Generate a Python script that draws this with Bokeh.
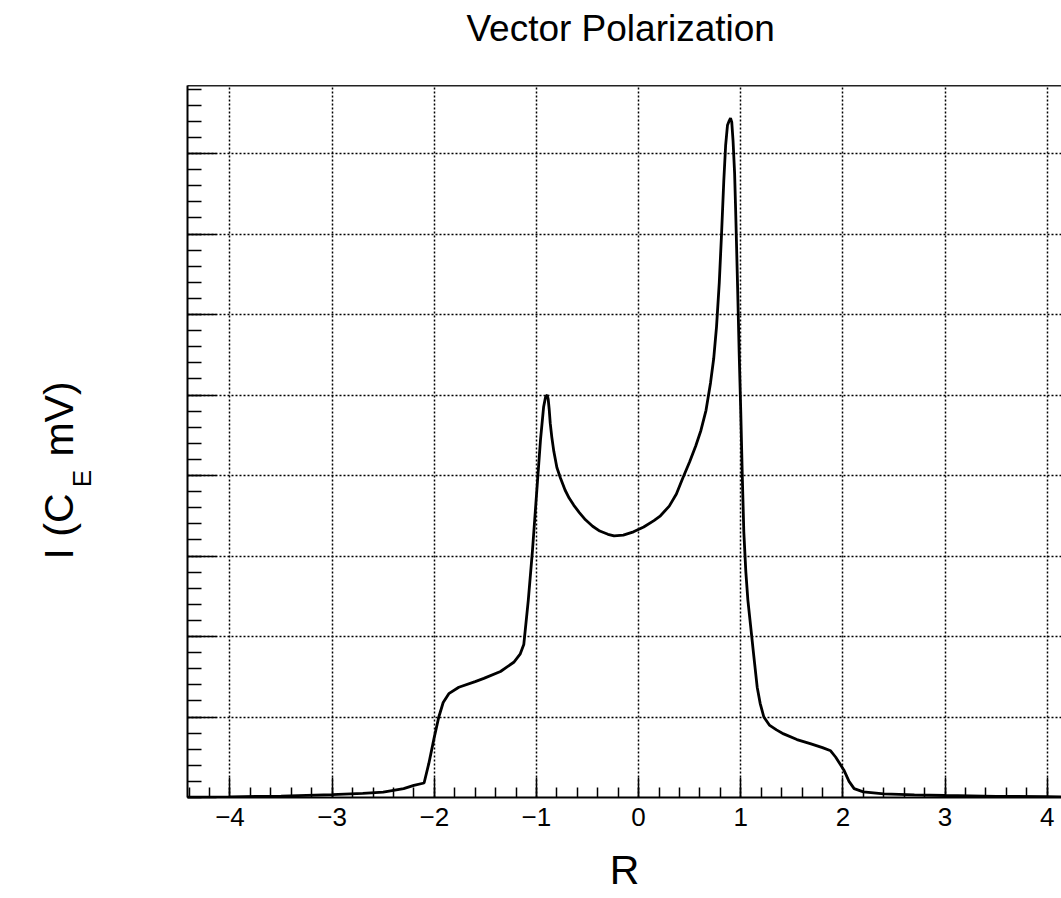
import numpy as np
from bokeh.plotting import figure
from bokeh.layouts import row, column
from bokeh.models import FixedTicker, LinearAxis, Label, Range1d, CustomJSTickFormatter
from bokeh.embed import file_html
from bokeh.resources import INLINE

# ---- data -------------------------------------------------------------
title_text = "Vector Polarization"
x_label = "R"
y_label_main = "I (C"
y_label_sub = "E"
y_label_tail = "mV)"

x_ticks = [-4, -3, -2, -1, 0, 1, 2, 3, 4]
x_tick_labels = ["\u22124", "\u22123", "\u22122", "\u22121", "0", "1", "2", "3", "4"]
y_ticks = [0, 1, 2, 3, 4, 5, 6, 7, 8]

r_values = [-4.42, -4.0, -3.5, -3.0, -2.7, -2.5, -2.3, -2.2, -2.1, -2.054, -2.0,
            -1.956, -1.913, -1.858, -1.76, -1.6, -1.515, -1.352, -1.222, -1.16,
            -1.124, -1.08, -1.04, -1.0, -0.96, -0.93, -0.91, -0.895, -0.885,
            -0.875, -0.865, -0.85, -0.83, -0.8, -0.765, -0.72, -0.68, -0.634,
            -0.58, -0.52, -0.45, -0.38, -0.3, -0.24, -0.15, -0.05, 0.05, 0.15,
            0.214, 0.3, 0.37, 0.43, 0.5, 0.56, 0.61, 0.66, 0.704, 0.735, 0.763,
            0.79, 0.812, 0.834, 0.852, 0.87, 0.888, 0.9, 0.912, 0.925, 0.94,
            0.95, 0.97, 0.985, 1.0, 1.015, 1.03, 1.05, 1.07, 1.095, 1.125, 1.161,
            1.19, 1.226, 1.28, 1.35, 1.42, 1.55, 1.68, 1.8, 1.88, 1.93, 1.98,
            2.01, 2.06, 2.11, 2.2, 2.4, 2.7, 3.0, 3.5, 4.0, 4.2]
intensity = [0.005, 0.008, 0.018, 0.035, 0.05, 0.066, 0.11, 0.15, 0.18, 0.42, 0.75,
             1.0, 1.18, 1.29, 1.37, 1.44, 1.48, 1.565, 1.68, 1.78,
             1.9, 2.45, 3.05, 3.75, 4.45, 4.85, 4.98, 5.0, 4.95,
             4.82, 4.65, 4.48, 4.3, 4.1, 3.97, 3.82, 3.72, 3.63,
             3.54, 3.45, 3.37, 3.31, 3.27, 3.25, 3.26, 3.3, 3.36, 3.44,
             3.5, 3.62, 3.77, 3.96, 4.17, 4.37, 4.56, 4.81, 5.15, 5.45, 5.85,
             6.4, 7.0, 7.66, 8.1, 8.35, 8.41, 8.44, 8.39, 8.15, 7.75,
             7.3, 6.3, 5.5, 4.8, 4.0, 3.3, 2.8, 2.45, 2.15, 1.79, 1.37,
             1.17, 1.0, 0.9, 0.84, 0.79, 0.72, 0.67, 0.62, 0.58, 0.5, 0.4,
             0.34, 0.2, 0.11, 0.07, 0.046, 0.033, 0.025, 0.015, 0.01, 0.008]

x_minor = [round(-4.4 + 0.2 * i, 2) for i in range(43)]
y_minor = [round(0.2 * i, 2) for i in range(45)]

FONT = "Liberation Sans"


def blank(width, height):
    f = figure(width=width, height=height, output_backend="svg",
               toolbar_location=None, x_range=Range1d(0, width),
               y_range=Range1d(0, height), x_axis_location=None,
               y_axis_location=None, min_border_left=0, min_border_right=0,
               min_border_top=0, min_border_bottom=0)
    f.outline_line_color = None
    f.grid.visible = False
    return f


# ---- left strip holding the y-axis title (data y = 898 - page y) -------
lp = blank(120, 898)
lp.add_layout(Label(x=58.5, y=898 - 526, text=y_label_main, text_font=FONT,
                    text_font_size="41px", text_align="center",
                    text_baseline="middle", angle=np.pi / 2, text_color="black"))
lp.add_layout(Label(x=81, y=898 - 478, text=y_label_sub, text_font=FONT,
                    text_font_size="26px", text_align="center",
                    text_baseline="middle", angle=np.pi / 2, text_color="black"))
lp.add_layout(Label(x=58.5, y=898 - 418.5, text=y_label_tail, text_font=FONT,
                    text_font_size="41px", text_align="center",
                    text_baseline="middle", angle=np.pi / 2, text_color="black"))

# ---- title strip ------------------------------------------------------
tp = blank(941, 85)
tp.add_layout(Label(x=466.4, y=57, text=title_text, text_font=FONT,
                    text_font_size="37px", text_align="center",
                    text_baseline="alphabetic", text_color="black"))

# ---- main figure ------------------------------------------------------
p = figure(width=941, height=813, output_backend="svg", toolbar_location=None,
           x_range=Range1d(-4.416, 4.140), y_range=Range1d(0, 8.845),
           min_border_left=67, min_border_right=0, min_border_top=0,
           min_border_bottom=101)
p.outline_line_color = None
p.background_fill_color = "white"
p.border_fill_color = "white"

# bottom axis
xax = p.xaxis[0]
xax.ticker = FixedTicker(ticks=x_ticks, minor_ticks=x_minor)
xax.major_label_overrides = dict(zip(x_ticks, x_tick_labels))
xax.major_tick_in = 20
xax.major_tick_out = 0
xax.minor_tick_in = 10
xax.minor_tick_out = 0
xax.axis_line_width = 2
xax.axis_line_color = "black"
xax.major_tick_line_width = 1.5
xax.minor_tick_line_width = 1.5
xax.major_tick_line_color = "black"
xax.minor_tick_line_color = "black"
xax.major_label_text_font = FONT
xax.major_label_text_font_size = "26px"
xax.major_label_text_color = "black"
xax.major_label_standoff = 10
xax.axis_label = x_label
xax.axis_label_text_font = FONT
xax.axis_label_text_font_size = "41px"
xax.axis_label_text_font_style = "normal"
xax.axis_label_text_color = "black"
xax.axis_label_standoff = 18

# left axis
yax = p.yaxis[0]
yax.ticker = FixedTicker(ticks=y_ticks, minor_ticks=y_minor)
yax.formatter = CustomJSTickFormatter(code="return ''")
yax.major_tick_in = 29
yax.major_tick_out = 0
yax.minor_tick_in = 14
yax.minor_tick_out = 0
yax.axis_line_width = 2
yax.axis_line_color = "black"
yax.major_tick_line_width = 1.5
yax.minor_tick_line_width = 1.5
yax.major_tick_line_color = "black"
yax.minor_tick_line_color = "black"

# top frame line
top = LinearAxis(ticker=FixedTicker(ticks=[]), axis_line_width=2,
                 axis_line_color="#222222", major_tick_in=0, major_tick_out=0,
                 minor_tick_in=0, minor_tick_out=0)
p.add_layout(top, "above")

# grids
p.xgrid.ticker = FixedTicker(ticks=x_ticks)
p.ygrid.ticker = FixedTicker(ticks=y_ticks[1:])
for g in (p.xgrid, p.ygrid):
    g.grid_line_color = "black"
    g.grid_line_width = 1.5
    g.grid_line_dash = "2 2"

# curve
p.line(r_values, intensity, line_color="black", line_width=2.8)

layout = row(lp, column(tp, p))
open("out.html", "w").write(file_html(layout, INLINE))
